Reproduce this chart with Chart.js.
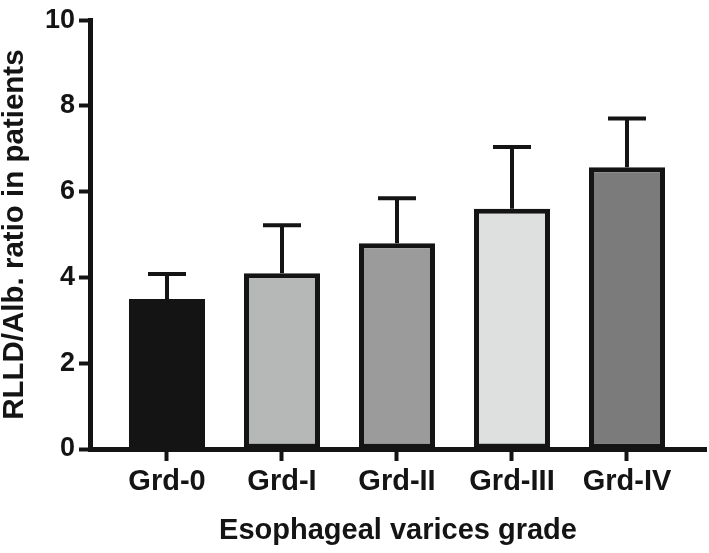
<!DOCTYPE html>
<html>
<head>
<meta charset="utf-8">
<script src="https://cdn.jsdelivr.net/npm/chart.js@4.4.1/dist/chart.umd.min.js"></script>
<style>
  html, body { margin: 0; padding: 0; background: #fff; }
  #wrap { width: 709px; height: 553px; }
</style>
</head>
<body>
<div id="wrap"><canvas id="chart" width="709" height="553"></canvas></div>
<script>
const categories = ["Grd-0", "Grd-I", "Grd-II", "Grd-III", "Grd-IV"];
const means = [3.5, 4.1, 4.8, 5.6, 6.57];
const errUpper = [4.08, 5.22, 5.85, 7.04, 7.71];
const fills = ["#141414", "#b6b8b7", "#9b9b9b", "#dee0df", "#7b7b7b"];
const yTicks = [0, 2, 4, 6, 8, 10];

const INK = "#141414";
const FONT = "'Liberation Sans', Arial, Helvetica, sans-serif";

// the black bar is solid, so it needs no separate outline
const borderWidths = fills.map((c) => (c === INK ? 0 : 5));

const errorBars = {
  id: "errorBars",
  afterDatasetsDraw(chart) {
    const { ctx, scales: { x, y } } = chart;
    ctx.save();
    ctx.strokeStyle = INK;
    ctx.lineWidth = 4;
    ctx.lineCap = "butt";
    errUpper.forEach((hi, i) => {
      const px = x.getPixelForValue(i);
      const top = y.getPixelForValue(hi);
      const base = y.getPixelForValue(means[i]);
      ctx.beginPath();
      ctx.moveTo(px, base);
      ctx.lineTo(px, top);
      ctx.moveTo(px - 19, top);
      ctx.lineTo(px + 19, top);
      ctx.stroke();
    });
    ctx.restore();
  },
};

new Chart(document.getElementById("chart").getContext("2d"), {
  type: "bar",
  data: {
    datasets: [
      {
        data: means.map((v, i) => ({ x: i, y: v })),
        backgroundColor: fills,
        borderColor: INK,
        borderWidth: borderWidths,
        borderSkipped: false,
        barPercentage: 0.66087,
        categoryPercentage: 1,
      },
    ],
  },
  options: {
    responsive: false,
    animation: false,
    layout: { padding: { top: 15, right: 3, bottom: 0, left: 0 } },
    plugins: { legend: { display: false }, tooltip: { enabled: false } },
    scales: {
      x: {
        type: "linear",
        offset: false,
        min: -0.669565,
        max: 4.686957,
        afterFit: (s) => { s.height = 104; },
        afterBuildTicks: (s) => { s.ticks = categories.map((c, i) => ({ value: i })); },
        grid: { offset: false, drawOnChartArea: false, drawTicks: true, tickLength: 12, tickWidth: 4, tickColor: INK },
        border: { display: true, color: INK, width: 5 },
        ticks: {
          color: INK,
          padding: 4,
          maxRotation: 0,
          autoSkip: false,
          font: { family: FONT, size: 29, weight: "bold" },
          callback: (v) => categories[v],
        },
        title: {
          display: true,
          text: "Esophageal varices grade",
          color: INK,
          font: { family: FONT, size: 29, weight: "bold", lineHeight: 1 },
          padding: { top: 0, bottom: 8 },
        },
      },
      y: {
        min: 0,
        max: 10,
        afterFit: (s) => { s.width = 90; },
        afterBuildTicks: (s) => { s.ticks = yTicks.map((v) => ({ value: v })); },
        grid: { drawOnChartArea: false, drawTicks: true, tickLength: 11, tickWidth: 4, tickColor: INK },
        border: { display: true, color: INK, width: 5 },
        ticks: {
          color: INK,
          padding: 4,
          font: { family: FONT, size: 27, weight: "bold" },
        },
        title: {
          display: true,
          text: "RLLD/Alb. ratio in patients",
          color: INK,
          font: { family: FONT, size: 29.5, weight: "bold", lineHeight: 1 },
          padding: { top: 0, bottom: 0 },
        },
      },
    },
  },
  plugins: [errorBars],
});
</script>
</body>
</html>
